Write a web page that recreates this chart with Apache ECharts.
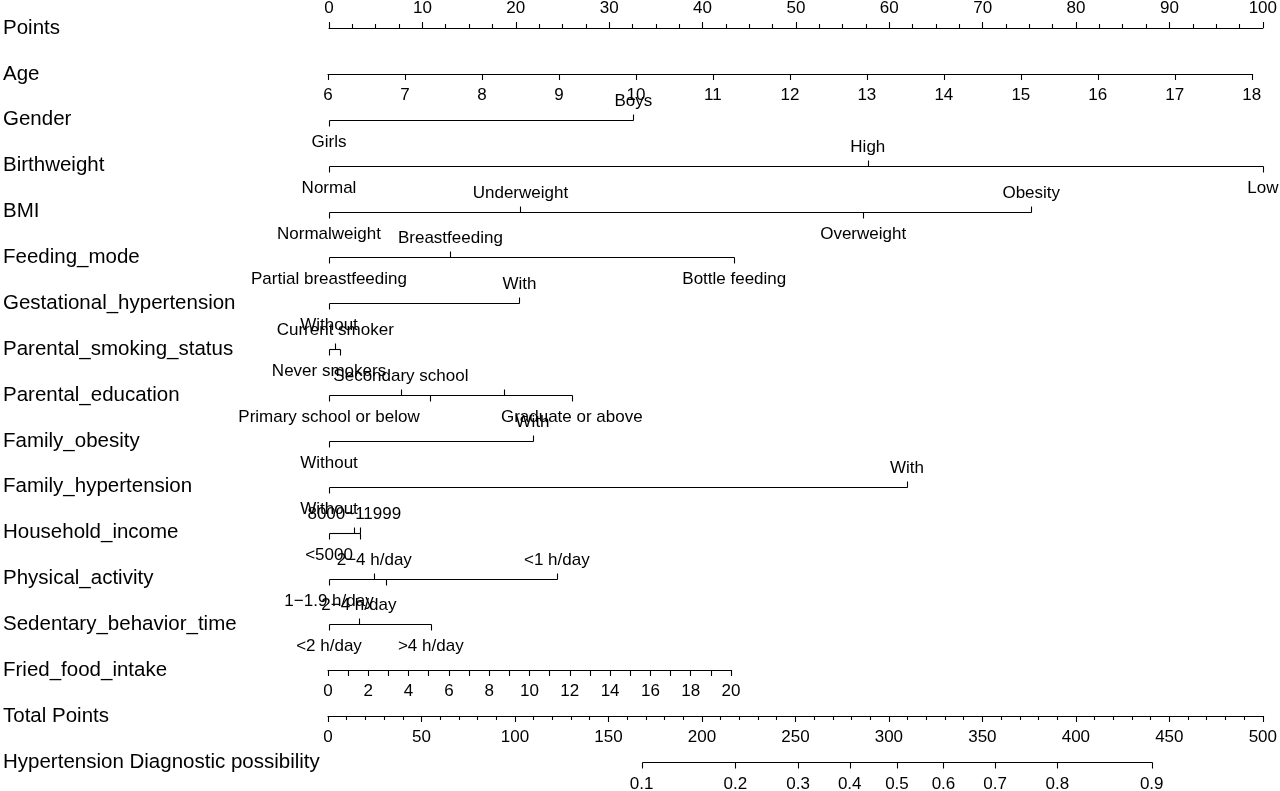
<!DOCTYPE html>
<html><head><meta charset="utf-8">
<script src="https://cdn.jsdelivr.net/npm/echarts@6/dist/echarts.min.js"></script>
<style>html,body{margin:0;padding:0;background:#fff}#c{width:1280px;height:791px}</style>
</head><body><div id="c"></div>
<script>
// ---------- DATA ----------
const rowNames = ['Points','Age','Gender','Birthweight','BMI','Feeding_mode','Gestational_hypertension',
  'Parental_smoking_status','Parental_education','Family_obesity','Family_hypertension','Household_income',
  'Physical_activity','Sedentary_behavior_time','Fried_food_intake','Total Points','Hypertension Diagnostic possibility'];

const pointsMin = 0, pointsMax = 100;
const ageMin = 6, ageMax = 18, agePointsAtMax = 98.8;
const friedMin = 0, friedMax = 20, friedPointsAtMax = 43.1;
const totalMin = 0, totalMax = 500;

const genderLevels = ['Girls','Boys'];
const genderPoints = [0, 32.6];
const birthweightLevels = ['Normal','High','Low'];
const birthweightPoints = [0, 57.7, 100];
const bmiLevels = ['Normalweight','Underweight','Overweight','Obesity'];
const bmiPoints = [0, 20.5, 57.2, 75.2];
const feedingLevels = ['Partial breastfeeding','Breastfeeding','Bottle feeding'];
const feedingPoints = [0, 13.0, 43.4];
const gestLevels = ['Without','With'];
const gestPoints = [0, 20.4];
const smokingLevels = ['Never smokers','Current smoker',''];
const smokingPoints = [0, 0.67, 1.18];
const educationLevels = ['Primary school or below','Secondary school','','','Graduate or above'];
const educationPoints = [0, 7.7, 10.8, 18.7, 26.0];
const famObesityLevels = ['Without','With'];
const famObesityPoints = [0, 21.8];
const famHypLevels = ['Without','With'];
const famHypPoints = [0, 61.9];
const incomeLevels = ['<5000','8000~11999','',''];
const incomePoints = [0, 2.71, 3.29, 3.29];
const physicalLevels = ['1\u22121.9 h/day','2\u22124 h/day','','<1 h/day'];
const physicalPoints = [0, 4.85, 6.1, 24.4];
const sedentaryLevels = ['<2 h/day','2\u22124 h/day','>4 h/day'];
const sedentaryPoints = [0, 3.2, 10.9];

const probLabels = ['0.1','0.2','0.3','0.4','0.5','0.6','0.7','0.8','0.9'];
const probTotalPoints = [167.4, 217.6, 251.2, 278.8, 304.1, 329.0, 356.7, 390.0, 440.5];

// ---------- LAYOUT ----------
const LEFT = 328, WIDTH = 935, TOP = 28, ROWH = 45.875, NROWS = rowNames.length;
const rowY = k => TOP + k * ROWH;
const FONT = '"Liberation Sans", Arial, sans-serif';
const TICKFS = 17;
const LW = 1.1;

function miniGrid(k, widthFrac) {
  return { left: LEFT, width: WIDTH * widthFrac, top: Math.round(rowY(k)) - 1, height: 1 };
}
const axisCommon = {
  axisLine: { show: true, lineStyle: { color: '#000', width: LW } },
  axisTick: { show: true, length: 6, lineStyle: { color: '#000', width: LW } },
  axisLabel: { color: '#000', fontSize: TICKFS, fontFamily: FONT, margin: 13, showMinLabel: true, showMaxLabel: true },
  splitLine: { show: false }
};

function catSeries(rowIdx, levels, pts, xAxisIndex, allBelow) {
  const lo = Math.min(...pts), hi = Math.max(...pts);
  return {
    type: 'custom', xAxisIndex: xAxisIndex, yAxisIndex: 0, silent: true, clip: false, z: 5,
    data: pts.map((p, i) => ({ value: [p, rowIdx], name: levels[i] })),
    renderItem(params, api) {
      const i = params.dataIndex;
      const p = api.coord([api.value(0), api.value(1)]);
      const above = !allBelow && (i % 2 === 1);
      const y = Math.round(p[1]) + 0.5;
      const tx = Math.round(p[0]) + 0.5;
      const children = [];
      if (i === 0) {
        const a = api.coord([lo, rowIdx]), b = api.coord([hi, rowIdx]);
        children.push({ type: 'line', shape: { x1: Math.round(a[0]) + 0.5, y1: y, x2: Math.round(b[0]) + 0.5, y2: y },
          style: { stroke: '#000', lineWidth: LW } });
      }
      children.push({ type: 'line', shape: { x1: tx, y1: y, x2: tx, y2: above ? y - 6 : y + 6 },
        style: { stroke: '#000', lineWidth: LW } });
      if (levels[i]) {
        children.push({ type: 'text', style: { text: levels[i], x: p[0], y: above ? y - 19 : y + 22,
          fill: '#000', font: TICKFS + 'px ' + FONT, align: 'center', verticalAlign: 'middle',
          textAlign: 'center', textVerticalAlign: 'middle' } });
      }
      return { type: 'group', children };
    }
  };
}

const catRows = [
  [2, genderLevels, genderPoints], [3, birthweightLevels, birthweightPoints], [4, bmiLevels, bmiPoints],
  [5, feedingLevels, feedingPoints], [6, gestLevels, gestPoints], [7, smokingLevels, smokingPoints],
  [8, educationLevels, educationPoints], [9, famObesityLevels, famObesityPoints], [10, famHypLevels, famHypPoints],
  [11, incomeLevels, incomePoints], [12, physicalLevels, physicalPoints], [13, sedentaryLevels, sedentaryPoints]
];

const series = catRows.map(r => catSeries(r[0], r[1], r[2], 0, false));
series.push(catSeries(16, probLabels, probTotalPoints, 1, true));

const option = {
  animation: false,
  backgroundColor: '#fff',
  grid: [
    { left: LEFT, width: WIDTH, top: TOP, height: rowY(NROWS - 1) - TOP },
    miniGrid(1, agePointsAtMax / 100),
    miniGrid(14, friedPointsAtMax / 100),
    miniGrid(15, 1)
  ],
  xAxis: [
    Object.assign({}, axisCommon, { gridIndex: 0, type: 'value', position: 'top', min: pointsMin, max: pointsMax, interval: 10,
      minorTick: { show: true, splitNumber: 4, length: 4, lineStyle: { color: '#000', width: LW } },
      axisLabel: Object.assign({}, axisCommon.axisLabel, { margin: 11 }) }),
    { gridIndex: 0, type: 'value', min: totalMin, max: totalMax, show: false },
    Object.assign({}, axisCommon, { gridIndex: 1, type: 'value', position: 'bottom', min: ageMin, max: ageMax, interval: 1 }),
    Object.assign({}, axisCommon, { gridIndex: 2, type: 'value', position: 'bottom', min: friedMin, max: friedMax, interval: 1,
      axisLabel: Object.assign({}, axisCommon.axisLabel, { formatter: v => (v % 2 === 0 ? String(v) : '') }) }),
    Object.assign({}, axisCommon, { gridIndex: 3, type: 'value', position: 'bottom', min: totalMin, max: totalMax, interval: 50,
      minorTick: { show: true, splitNumber: 5, length: 4, lineStyle: { color: '#000', width: LW } } })
  ],
  yAxis: [
    { gridIndex: 0, type: 'value', min: 0, max: NROWS - 1, interval: 1, inverse: true,
      axisLine: { show: false }, axisTick: { show: false }, splitLine: { show: false },
      axisLabel: { show: true, align: 'left', margin: LEFT - 2, color: '#000', fontSize: 20.5, fontFamily: FONT,
        showMinLabel: true, showMaxLabel: true, formatter: v => rowNames[v] || '' } },
    { gridIndex: 1, type: 'value', min: 0, max: 1, show: false },
    { gridIndex: 2, type: 'value', min: 0, max: 1, show: false },
    { gridIndex: 3, type: 'value', min: 0, max: 1, show: false }
  ],
  series: series
};

const chart = echarts.init(document.getElementById('c'), null, { renderer: 'canvas' });
chart.setOption(option);
</script>
</body></html>
